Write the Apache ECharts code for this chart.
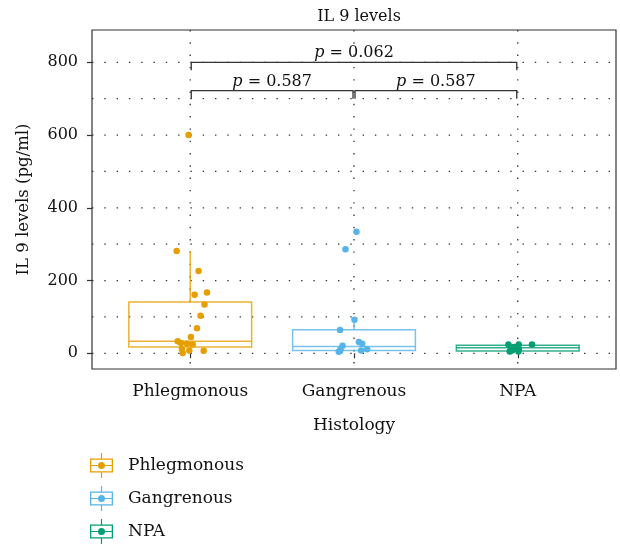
<!DOCTYPE html>
<html>
<head>
<meta charset="utf-8">
<script src="https://cdn.jsdelivr.net/npm/echarts@6/dist/echarts.min.js"></script>
<style>html,body{margin:0;padding:0;background:#fff}#c{width:620px;height:548px}</style>
</head>
<body>
<div id="c"></div>
<script>
// ---- data ----
const categories = ['Phlegmonous', 'Gangrenous', 'NPA'];
const yTickValues = [0, 200, 400, 600, 800];
const yGridValues = [0, 100, 200, 300, 400, 500, 600, 700, 800];

// box statistics per category: lower whisker, Q1, median, Q3, upper whisker
const boxLow    = [1, 4, 5];
const boxQ1     = [17, 8, 6];
const boxMedian = [33, 19, 15];
const boxQ3     = [141, 65, 22];
const boxHigh   = [281, 92, 24];

// jittered observations (value, horizontal jitter in category units)
const phlegValues = [600, 281, 226, 161, 167, 134, 103, 69, 45, 33, 28, 26, 24, 12, 8, 7, 1];
const phlegJitter = [-0.01, -0.083, 0.051, 0.027, 0.102, 0.087, 0.063, 0.041, 0.004, -0.077, -0.057, -0.02, 0.015, -0.051, -0.006, 0.082, -0.046];
const gangValues = [334, 286, 92, 64, 31, 26, 21, 12, 4, 8, 11, 6];
const gangJitter = [0.015, -0.052, 0.003, -0.085, 0.03, 0.05, -0.07, -0.082, -0.093, 0.044, 0.08, -0.085];
const npaValues = [24, 24, 24, 14, 17, 11, 5, 5, 8];
const npaJitter = [-0.057, 0.006, 0.087, -0.041, -0.023, 0.006, -0.049, 0.004, -0.035];

// significance brackets
const bracketFrom = [1, 2, 1];
const bracketTo   = [2, 3, 3];
const bracketY    = [722, 722, 800];
const pValues     = ['0.587', '0.587', '0.062'];

// ---- styles ----
const FONT = 'DejaVu Serif';
const TXT = '#111';
const palette = ['#E69F00', '#56B4E9', '#009E73'];

const legendIcon = 'path://M0 5.5H23V19.5H0Z M1.3 6.8V18.2H21.7V6.8Z M1.3 11.9H21.7V13.1H1.3Z M10.9 0H12.1V5.5H10.9Z M10.9 19.5H12.1V25H10.9Z M8 12.5A3.5 3.5 0 1 1 15 12.5A3.5 3.5 0 1 1 8 12.5Z';

const chart = echarts.init(document.getElementById('c'), null, {renderer: 'canvas'});

function dotted() {
  return {stroke: '#333', lineWidth: 1.3, lineDash: [1.4, 10.9], fill: null};
}

const gridSeries = [
  {
    type: 'custom', silent: true, z: 1,
    data: yGridValues.map(v => [v]),
    renderItem: function (params, api) {
      const cs = params.coordSys;
      const y = api.coord([1, api.value(0)])[1];
      return {type: 'line', shape: {x1: cs.x, y1: y, x2: cs.x + cs.width, y2: y}, style: dotted()};
    }
  },
  {
    type: 'custom', silent: true, z: 1,
    data: categories.map((c, i) => [i + 1]),
    renderItem: function (params, api) {
      const cs = params.coordSys;
      const x = api.coord([api.value(0), 0])[0];
      return {type: 'line', shape: {x1: x, y1: cs.y, x2: x, y2: cs.y + cs.height}, style: dotted()};
    }
  }
];

const boxSeries = categories.map((name, i) => ({
  name: name,
  type: 'custom',
  z: 2,
  itemStyle: {color: palette[i]},
  data: [[i + 1, boxLow[i], boxQ1[i], boxMedian[i], boxQ3[i], boxHigh[i]]],
  renderItem: function (params, api) {
    const x = api.value(0);
    const lo = api.coord([x, api.value(1)]);
    const q1 = api.coord([x, api.value(2)]);
    const md = api.coord([x, api.value(3)]);
    const q3 = api.coord([x, api.value(4)]);
    const hi = api.coord([x, api.value(5)]);
    const hw = api.size([0.75, 0])[0] / 2;
    const st = {stroke: palette[i], lineWidth: 1.5, fill: null, opacity: 0.8};
    return {
      type: 'group',
      children: [
        {type: 'line', shape: {x1: lo[0], y1: lo[1], x2: q1[0], y2: q1[1]}, style: st},
        {type: 'line', shape: {x1: q3[0], y1: q3[1], x2: hi[0], y2: hi[1]}, style: st},
        {type: 'rect', shape: {x: q3[0] - hw, y: q3[1], width: 2 * hw, height: q1[1] - q3[1]}, style: st},
        {type: 'line', shape: {x1: md[0] - hw, y1: md[1], x2: md[0] + hw, y2: md[1]}, style: st}
      ]
    };
  }
}));

const pointSets = [
  [phlegValues, phlegJitter],
  [gangValues, gangJitter],
  [npaValues, npaJitter]
];
const pointSeries = pointSets.map((set, i) => ({
  name: categories[i],
  type: 'scatter',
  z: 3,
  symbolSize: 6.5,
  itemStyle: {color: palette[i], opacity: 1},
  data: set[0].map((v, k) => [i + 1 + set[1][k], v])
}));

const bracketSeries = {
  type: 'custom', silent: true, z: 4,
  data: bracketFrom.map((f, k) => [f, bracketTo[k], bracketY[k]]),
  renderItem: function (params, api) {
    const k = params.dataIndex;
    const a = api.coord([api.value(0), api.value(2)]);
    const b = api.coord([api.value(1), api.value(2)]);
    const tip = api.coord([api.value(0), api.value(2) - 22])[1];
    const x1 = a[0] + 1, x2 = b[0] - 1;
    return {
      type: 'group',
      children: [
        {type: 'polyline', shape: {points: [[x1, tip], [x1, a[1]], [x2, b[1]], [x2, tip]]},
         style: {stroke: '#333', lineWidth: 1.3, fill: null}},
        {type: 'text', x: (a[0] + b[0]) / 2, y: a[1] - 1,
         style: {text: '{i|p} = ' + pValues[k], fontFamily: FONT, fontSize: 16, fill: TXT,
                 align: 'center', verticalAlign: 'bottom',
                 rich: {i: {fontStyle: 'italic', fontFamily: FONT, fontSize: 16, fill: TXT}}}}
      ]
    };
  }
};

chart.setOption({
  animation: false,
  backgroundColor: '#fff',
  title: {
    text: 'IL 9 levels', left: 354, top: 4, textAlign: 'center',
    textStyle: {fontFamily: FONT, fontSize: 16, fontWeight: 'normal', color: TXT}
  },
  legend: {
    orient: 'vertical', left: 90, top: 453, padding: 0,
    itemWidth: 23, itemHeight: 25, itemGap: 8,
    data: categories.map(n => ({name: n, icon: legendIcon})),
    textStyle: {fontFamily: FONT, fontSize: 17, color: TXT, padding: [0, 0, 0, 10]}
  },
  grid: {
    left: 92, right: 4, top: 30, bottom: 179, show: true,
    borderColor: '#333', borderWidth: 1.2, backgroundColor: 'transparent'
  },
  xAxis: {
    type: 'value', min: 0.4, max: 3.6,
    name: 'Histology', nameLocation: 'middle', nameGap: 48,
    nameTextStyle: {fontFamily: FONT, fontSize: 17, color: TXT},
    axisLine: {show: false},
    splitLine: {show: false},
    axisTick: {show: true, customValues: [1, 2, 3], length: 5, lineStyle: {color: '#333', width: 1.2}},
    axisLabel: {customValues: [1, 2, 3], margin: 14, fontFamily: FONT, fontSize: 17, color: TXT,
                formatter: v => categories[Math.round(v) - 1]}
  },
  yAxis: {
    type: 'value', min: -43.2, max: 888.9,
    name: 'IL 9 levels (pg/ml)', nameLocation: 'middle', nameGap: 60,
    nameTextStyle: {fontFamily: FONT, fontSize: 16.5, color: TXT},
    axisLine: {show: false},
    splitLine: {show: false},
    axisTick: {show: true, customValues: yTickValues, length: 5, lineStyle: {color: '#333', width: 1.2}},
    axisLabel: {customValues: yTickValues, margin: 14, fontFamily: FONT, fontSize: 16, color: TXT}
  },
  series: [].concat(gridSeries, boxSeries, pointSeries, [bracketSeries])
});
</script>
</body>
</html>
